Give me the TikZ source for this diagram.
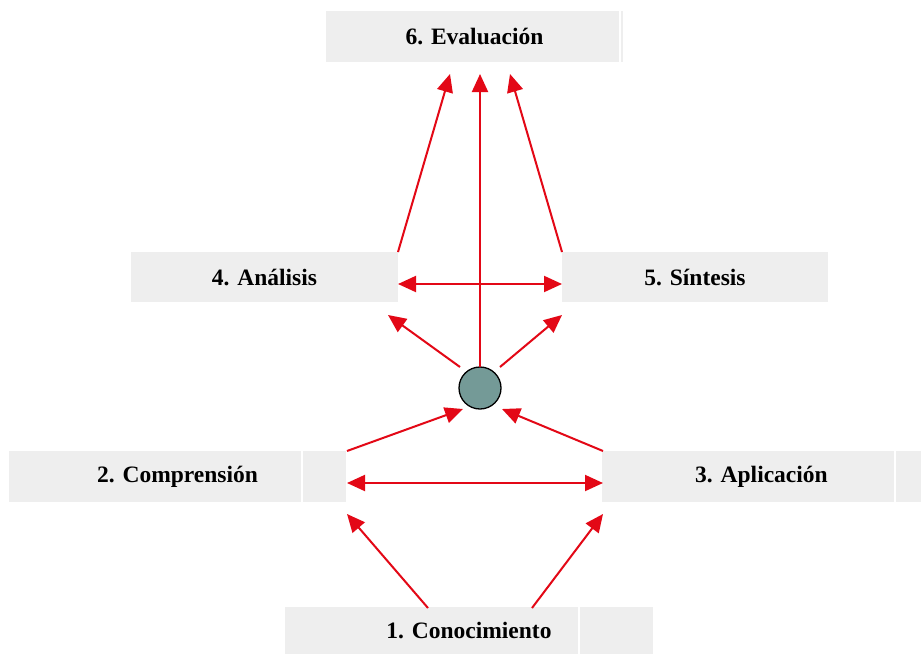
\documentclass[tikz,border=0pt]{standalone}
\usepackage{fontspec}
\setmainfont{Liberation Serif}
\usetikzlibrary{arrows.meta,calc}
\definecolor{arrred}{RGB}{227,8,22}
\definecolor{boxgray}{RGB}{238,238,238}
\definecolor{hubfill}{RGB}{116,154,151}
\tikzset{
  levelbox/.style={rectangle, fill=boxgray, draw=none, inner sep=0pt,
    font=\fontsize{23.5}{26}\selectfont\bfseries, text=black},
  sepline/.style={white, line width=2pt},
  link/.style={arrred, line width=2pt, -{Triangle[length=18pt,width=16pt]}},
  dlink/.style={arrred, line width=2pt, {Triangle[length=18pt,width=16pt]}-{Triangle[length=18pt,width=16pt]}},
  hub/.style={circle, fill=hubfill, draw=black, line width=1.3pt, minimum size=42pt, inner sep=0pt}
}
\begin{document}
\begin{tikzpicture}[x=1pt,y=-1pt]
\useasboundingbox[fill=white] (0,0) rectangle (921,654);
% boxes
\node[levelbox, minimum width=297pt, minimum height=51pt] (n6) at (474.5,36.5) {6. Evaluación};
\node[levelbox, minimum width=267pt, minimum height=50pt] (n4) at (264.5,277) {4. Análisis};
\node[levelbox, minimum width=266pt, minimum height=50pt] (n5) at (695,277) {5. Síntesis};
\node[levelbox, minimum width=337pt, minimum height=51pt] (n2) at (177.5,476.5) {2. Comprensión};
\node[levelbox, minimum width=319pt, minimum height=51pt] (n3) at (761.5,476.5) {3. Aplicación};
\node[levelbox, minimum width=368pt, minimum height=47pt] (n1) at (469,630.5) {1. Conocimiento};
% separators
\draw[sepline] (620,11) -- (620,62);
\draw[sepline] (301.5,451) -- (301.5,502);
\draw[sepline] (894.5,451) -- (894.5,502);
\draw[sepline] (578.5,607) -- (578.5,654);
% hub
\node[hub] (hub) at (480,388) {};
% connector end points
\coordinate (c1a) at (428,608);
\coordinate (c1b) at (532,608);
\coordinate (c2a) at (347,514);
\coordinate (c3a) at (603,514);
\coordinate (c2l) at (347,483);
\coordinate (c3l) at (603,483);
\coordinate (c2u) at (347,451);
\coordinate (c3u) at (603,451);
\coordinate (hin2) at (463,409);
\coordinate (hin3) at (502,409);
\coordinate (hout4) at (460,367);
\coordinate (hout5) at (500,367);
\coordinate (hout6) at (480,367);
\coordinate (c4a) at (388,315);
\coordinate (c5a) at (562,315);
\coordinate (c4l) at (398,284);
\coordinate (c5l) at (562,284);
\coordinate (c4u) at (398,252);
\coordinate (c5u) at (562,252);
\coordinate (c6a) at (450,74);
\coordinate (c6b) at (480,74);
\coordinate (c6c) at (510,74);
% connectors
\draw[link] (c1a) -- (c2a);
\draw[link] (c1b) -- (c3a);
\draw[dlink] (c2l) -- (c3l);
\draw[link] (c2u) -- (hin2);
\draw[link] (c3u) -- (hin3);
\draw[link] (hout4) -- (c4a);
\draw[link] (hout5) -- (c5a);
\draw[link] (hout6) -- (c6b);
\draw[dlink] (c4l) -- (c5l);
\draw[link] (c4u) -- (c6a);
\draw[link] (c5u) -- (c6c);
\end{tikzpicture}
\end{document}
